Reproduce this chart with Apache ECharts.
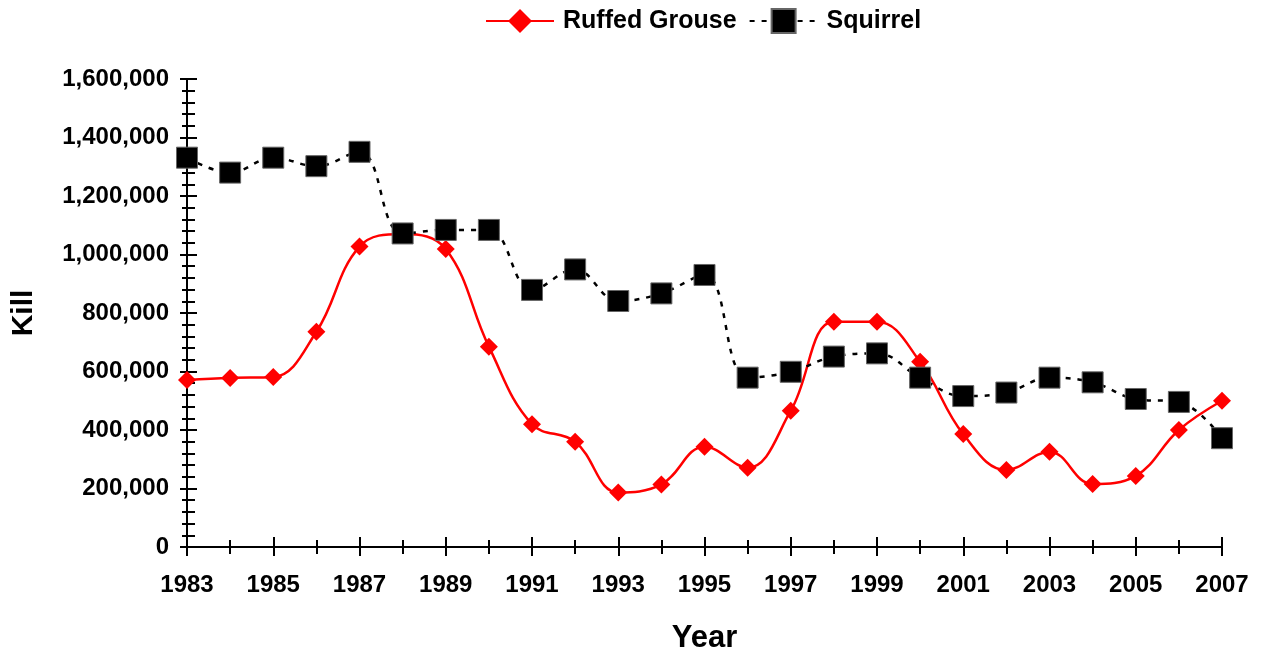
<!DOCTYPE html>
<html>
<head>
<meta charset="utf-8">
<script src="https://cdn.jsdelivr.net/npm/echarts@6/dist/echarts.min.js"></script>
<style>html,body{margin:0;padding:0;background:#fff}#c{width:1264px;height:654px}</style>
</head>
<body>
<div id="c"></div>
<script>
var years = ['1983','1984','1985','1986','1987','1988','1989','1990','1991','1992','1993','1994','1995','1996','1997','1998','1999','2000','2001','2002','2003','2004','2005','2006','2007'];
var ruffedGrouse = [571000,578000,581000,736000,1027000,1070000,1019000,685000,420000,360000,186000,214000,343000,271000,466000,770000,770000,633000,386000,263000,326000,215000,243000,400000,500000];
var squirrel = [1331000,1280000,1331000,1302000,1351000,1072000,1084000,1084000,879000,949000,841000,867000,930000,579000,599000,651000,662000,579000,516000,528000,579000,563000,506000,496000,372000];
var yTicks = {min:0, max:1600000, interval:200000};

var FONT = 'Liberation Sans, Arial, sans-serif';
var tickStyle = {color:'#000', width:2};
function xAx(opts){
  return Object.assign({
    type:'category', data:years, boundaryGap:false, position:'bottom', offset:0,
    axisLine:{show:false}, axisLabel:{show:false}, splitLine:{show:false}
  }, opts);
}
var chart = echarts.init(document.getElementById('c'));
chart.setOption({
  animation:false,
  backgroundColor:'#fff',
  textStyle:{fontFamily:FONT},
  legend:{
    top:8, left:485, padding:0, itemWidth:68, itemHeight:30, itemGap:12,
    textStyle:{fontFamily:FONT, fontSize:25, fontWeight:'bold', color:'#000', padding:[0,0,0,4]},
    data:['Ruffed Grouse','Squirrel']
  },
  grid:{left:187, right:42, top:79, bottom:107, containLabel:false, outerBoundsMode:'none'},
  xAxis:[
    xAx({
      axisLine:{show:true, lineStyle:{color:'#000', width:2}},
      axisTick:{show:true, interval:1, length:9, lineStyle:tickStyle},
      axisLabel:{show:true, interval:1, margin:26, color:'#000', fontSize:24, fontWeight:'bold', fontFamily:FONT},
      name:'Year', nameLocation:'middle', nameGap:76,
      nameTextStyle:{color:'#000', fontSize:31, fontWeight:'bold', fontFamily:FONT}
    }),
    xAx({axisTick:{show:true, interval:1, inside:true, length:10, lineStyle:tickStyle}}),
    xAx({axisTick:{show:true, interval:0, length:7, lineStyle:tickStyle}}),
    xAx({axisTick:{show:true, interval:0, inside:true, length:7, lineStyle:tickStyle}})
  ],
  yAxis:[
    {
      type:'value', min:yTicks.min, max:yTicks.max, interval:yTicks.interval, position:'left',
      axisLine:{show:true, lineStyle:{color:'#000', width:2}},
      axisTick:{show:true, length:7, lineStyle:tickStyle},
      minorTick:{show:true, splitNumber:5, length:5, lineStyle:tickStyle},
      splitLine:{show:false},
      axisLabel:{margin:18, color:'#000', fontSize:24, fontWeight:'bold', fontFamily:FONT},
      name:'Kill', nameLocation:'middle', nameGap:148,
      nameTextStyle:{color:'#000', fontSize:30, fontWeight:'bold', fontFamily:FONT}
    },
    {
      type:'value', min:yTicks.min, max:yTicks.max, interval:yTicks.interval, position:'left', offset:0,
      axisLine:{show:false}, axisLabel:{show:false}, splitLine:{show:false},
      axisTick:{show:true, inside:true, length:10, lineStyle:tickStyle},
      minorTick:{show:true, splitNumber:5, length:8, lineStyle:tickStyle}
    }
  ],
  series:[
    {
      name:'Ruffed Grouse', type:'line', data:ruffedGrouse, smooth:0.4,
      symbol:'diamond', symbolSize:18,
      itemStyle:{color:'#ff0000'},
      lineStyle:{color:'#ff0000', width:2.5},
      z:2
    },
    {
      name:'Squirrel', type:'line', data:squirrel, smooth:0.4,
      symbol:'rect', symbolSize:21,
      itemStyle:{color:'#000', borderColor:'#666', borderWidth:1},
      lineStyle:{color:'#000', width:2.5, type:[5,7]},
      z:3
    }
  ]
});
</script>
</body>
</html>
